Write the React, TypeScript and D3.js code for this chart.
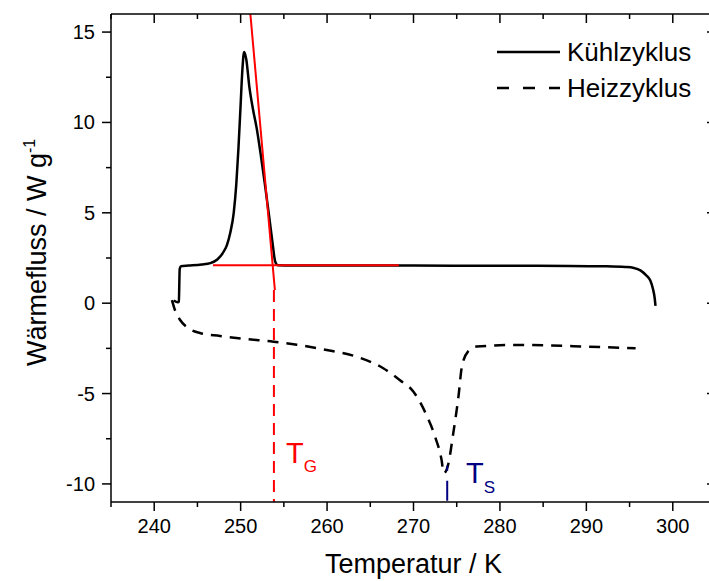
import React from "react";
import * as d3 from "d3";

const WIDTH = 709;
const HEIGHT = 581;
const MARGIN = { top: 14, left: 111, right: -7, bottom: 79 };

// Kühlzyklus: [Temperatur K, Wärmefluss W/g]
const coolingCycle: [number, number][] = [
  [242.25, 0.15], [242.75, 0.05], [242.85, 0.1], [242.95, 1.9], [243.1, 2.05],
  [244, 2.08], [245.5, 2.14], [246.5, 2.22], [247.3, 2.42], [247.9, 2.75],
  [248.4, 3.2], [248.8, 3.9], [249.2, 5.0], [249.5, 6.6], [249.75, 8.6],
  [250.0, 11.0], [250.2, 12.9], [250.4, 13.9], [250.65, 13.5], [251.0, 12.0],
  [251.4, 10.8], [251.85, 9.7], [252.3, 8.3], [252.8, 6.6], [253.3, 4.8],
  [253.7, 3.3], [254.0, 2.3], [254.3, 2.1], [256, 2.08], [260, 2.08],
  [270, 2.08], [280, 2.07], [288, 2.06], [292, 2.04], [294.5, 2.0],
  [295.5, 1.95], [296.3, 1.8], [296.9, 1.55], [297.4, 1.25], [297.7, 0.8],
  [297.9, 0.3], [298.0, -0.15]
];

// Heizzyklus
const heatingCycle: [number, number][] = [
  [242.05, 0.17], [242.4, -0.38], [243.0, -0.93], [243.9, -1.37], [245.3, -1.65],
  [247.6, -1.81], [250.5, -1.98], [253.8, -2.13], [256.5, -2.3], [259.5, -2.55],
  [263.4, -2.96], [266.5, -3.6], [268.4, -4.25], [270.0, -4.9], [271.5, -6.19],
  [272.5, -7.39], [273.25, -8.68], [273.5, -9.41], [274.0, -8.95], [274.6, -7.2],
  [275.2, -5.17], [275.6, -3.5], [276.3, -2.68], [277.3, -2.4], [282.3, -2.31],
  [290, -2.4], [295.7, -2.5]
];

// Tangentenkonstruktion
const tangentLine: [number, number][] = [[251.07, 16.3], [253.96, 0.73]];
const baseLine: [number, number][] = [[246.8, 2.1], [268.3, 2.1]];
const tG = 253.85;
const tGStart = 0.73;
const tS = 273.9;
const tSStart = -9.0;

const xMajor = [240, 250, 260, 270, 280, 290, 300];
const xMinor = [235, 245, 255, 265, 275, 285, 295, 305];
const yMajor = [-10, -5, 0, 5, 10, 15];
const yMinor = [-7.5, -2.5, 2.5, 7.5, 12.5];

const FONT = "'Liberation Sans', Arial, Helvetica, sans-serif";
const MAJOR = 9;
const MINOR = 5;

export default function App() {
  const x = d3
    .scaleLinear()
    .domain([235, 305])
    .range([MARGIN.left, WIDTH - MARGIN.right]);
  const y = d3
    .scaleLinear()
    .domain([-11, 16])
    .range([HEIGHT - MARGIN.bottom, MARGIN.top]);

  const line = d3
    .line<[number, number]>()
    .x(d => x(d[0]))
    .y(d => y(d[1]))
    .curve(d3.curveMonotoneX);
  const straight = d3
    .line<[number, number]>()
    .x(d => x(d[0]))
    .y(d => y(d[1]));

  const [x0, x1] = x.range();
  const [y0, y1] = y.range();

  return (
    <svg
      width={WIDTH}
      height={HEIGHT}
      style={{ position: "absolute", left: 0, top: 0, background: "#fff" }}
      fontFamily={FONT}
    >
      <defs>
        <clipPath id="plot">
          <rect x={x0} y={y1} width={x1 - x0} height={y0 - y1} />
        </clipPath>
      </defs>

      <g clipPath="url(#plot)">
        <path d={line(heatingCycle)!} fill="none" stroke="#000" strokeWidth={2.5} strokeDasharray="11,8" />
        <path d={line(coolingCycle)!} fill="none" stroke="#000" strokeWidth={2.5} strokeLinejoin="round" />
        <path d={straight(baseLine)!} fill="none" stroke="#ff0000" strokeWidth={2} />
        <path d={straight(tangentLine)!} fill="none" stroke="#ff0000" strokeWidth={2} />
        <line x1={x(tG)} x2={x(tG)} y1={y(tGStart)} y2={y0} stroke="#ff0000" strokeWidth={2} strokeDasharray="12,7" />
        <line x1={x(tS)} x2={x(tS)} y1={y(tSStart)} y2={y0} stroke="#000080" strokeWidth={2} strokeDasharray="5,10,20,2" />
      </g>

      {/* frame */}
      <line x1={x0} x2={x1} y1={y0} y2={y0} stroke="#000" strokeWidth={1.5} />
      <line x1={x0} x2={x1} y1={y1} y2={y1} stroke="#000" strokeWidth={1.5} />
      <line x1={x0} x2={x0} y1={y0} y2={y1} stroke="#000" strokeWidth={1.5} />
      <line x1={x1} x2={x1} y1={y0} y2={y1} stroke="#000" strokeWidth={1.5} />

      {xMajor.map(t => (
        <g key={"xM" + t}>
          <line x1={x(t)} x2={x(t)} y1={y0} y2={y0 + MAJOR} stroke="#000" strokeWidth={1.5} />
          <line x1={x(t)} x2={x(t)} y1={y1} y2={y1 + MAJOR} stroke="#000" strokeWidth={1.5} />
          <text x={x(t)} y={y0 + 31} textAnchor="middle" fontSize={20}>{t}</text>
        </g>
      ))}
      {xMinor.map(t => (
        <g key={"xm" + t}>
          <line x1={x(t)} x2={x(t)} y1={y0} y2={y0 + MINOR} stroke="#000" strokeWidth={1.5} />
          <line x1={x(t)} x2={x(t)} y1={y1} y2={y1 + MINOR} stroke="#000" strokeWidth={1.5} />
        </g>
      ))}
      {yMajor.map(t => (
        <g key={"yM" + t}>
          <line x1={x0} x2={x0 - MAJOR} y1={y(t)} y2={y(t)} stroke="#000" strokeWidth={1.5} />
          <line x1={x1} x2={x1 - MAJOR} y1={y(t)} y2={y(t)} stroke="#000" strokeWidth={1.5} />
          <text x={x0 - 16} y={y(t) + 7} textAnchor="end" fontSize={20}>{t}</text>
        </g>
      ))}
      {yMinor.map(t => (
        <g key={"ym" + t}>
          <line x1={x0} x2={x0 - MINOR} y1={y(t)} y2={y(t)} stroke="#000" strokeWidth={1.5} />
          <line x1={x1} x2={x1 - MINOR} y1={y(t)} y2={y(t)} stroke="#000" strokeWidth={1.5} />
        </g>
      ))}

      <text x={(x0 + x1) / 2} y={573} textAnchor="middle" fontSize={27}>Temperatur / K</text>
      <text transform="translate(46, 366) rotate(-90)" textAnchor="start" fontSize={27}>
        Wärmefluss / W g<tspan dy={-11} fontSize={16}>-1</tspan>
      </text>

      {/* annotations */}
      <text x={286} y={463} fill="#ff0000" fontSize={29}>T<tspan dy={9} fontSize={17}>G</tspan></text>
      <text x={466} y={483} fill="#000080" fontSize={29}>T<tspan dy={10} fontSize={17}>S</tspan></text>

      {/* legend */}
      <line x1={497} x2={560} y1={52} y2={52} stroke="#000" strokeWidth={2.5} />
      <text x={567} y={61} fontSize={26}>Kühlzyklus</text>
      <line x1={497} x2={560} y1={88} y2={88} stroke="#000" strokeWidth={2.5} strokeDasharray="12,14" />
      <text x={567} y={97} fontSize={26}>Heizzyklus</text>
    </svg>
  );
}
